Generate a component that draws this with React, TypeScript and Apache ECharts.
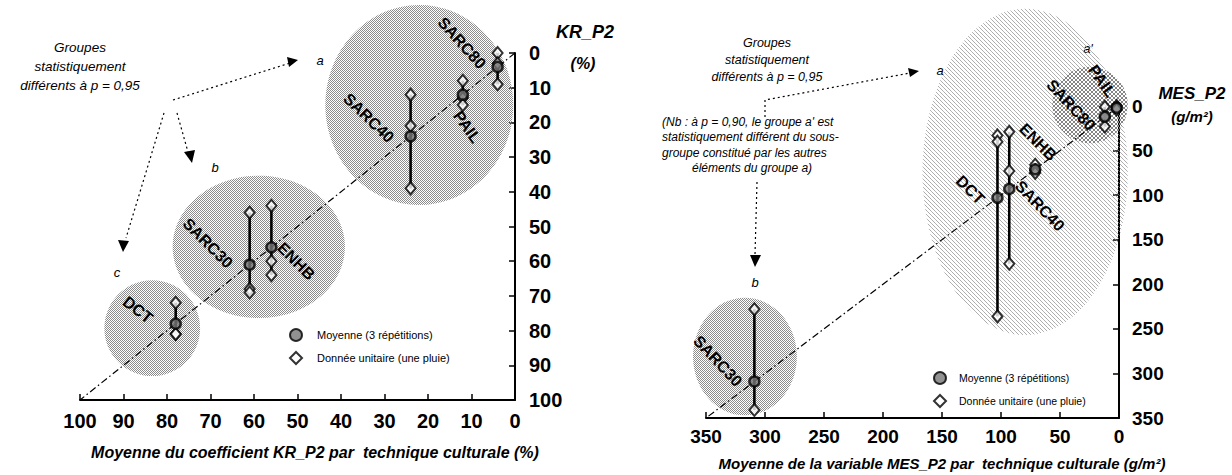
import { useEffect, useRef } from "react";
import * as echarts from "echarts";

const FONT = "'Liberation Sans', Arial, sans-serif";

// ---------- Left panel : KR_P2 (%) ----------
const krTechniques = ["SARC80", "PAIL", "SARC40", "SARC30", "ENHB", "DCT"];
const krMeans = [4, 12, 24, 61, 56, 78];
const krRuns = [
  [0, 3, 9],
  [8, 13, 15],
  [12, 21, 39],
  [46, 68, 69],
  [44, 60, 64],
  [72, 81, 81],
];
const krAxisMin = 0;
const krAxisMax = 100;
const krAxisStep = 10;

// ---------- Right panel : MES_P2 (g/m²) ----------
const mesTechniques = ["PAIL", "SARC80", "ENHB", "SARC40", "DCT", "SARC30"];
const mesMeans = [2, 12, 71, 93, 103, 309];
const mesRuns = [
  [0, 2, 4],
  [1, 12, 23],
  [66, 72, 75],
  [29, 73, 177],
  [33, 40, 236],
  [228, 341],
];
const mesAxisMin = 0;
const mesAxisMax = 350;
const mesAxisStep = 50;

// statistical groups (annotation areas, in data units: centre x, centre y, radius x, radius y)
const krGroupAreas = [
  [22, 15, 21.6, 28.8],
  [58.9, 55.9, 19.8, 20.5],
  [83.4, 79.3, 11, 13.8],
];
const mesGroupAreas = [
  [79.5, 74, 87, 183],
  [24.6, -1.1, 32, 43],
  [317, 281, 44, 66],
];
// technique label anchors (data units) and angle in degrees
const krLabelSpots = [
  [12.2, -2.9, -48],
  [11, 21.3, -55],
  [33.6, 18.7, -44],
  [70.6, 54.8, -45],
  [50.3, 60, -45],
  [86.7, 74, -38],
];
const mesLabelSpots = [
  [14.4, -28, -55],
  [40.7, -1.1, -47],
  [68.6, 40.4, -45],
  [67, 112, -46],
  [126, 94, -45],
  [340, 286, -47],
];

const MEAN_NAME = "Moyenne (3 répétitions)";
const RUN_NAME = "Donnée unitaire (une pluie)";

function svgPattern(body: string, w: number, h: number) {
  const svg = `<svg xmlns='http://www.w3.org/2000/svg' width='${w}' height='${h}'>${body}</svg>`;
  return {
    image: "data:image/svg+xml;charset=utf-8," + encodeURIComponent(svg),
    repeat: "repeat",
    imageWidth: w,
    imageHeight: h,
  } as any;
}

const stipple = svgPattern(
  "<rect x='0' y='0' width='1' height='1' fill='#8c8c8c'/><rect x='1' y='1' width='1' height='1' fill='#8c8c8c'/>",
  2,
  2
);
const hatch = svgPattern(
  "<path d='M0,0 L4,4 M-1,3 L1,5 M3,-1 L5,1' stroke='#8a8a8a' stroke-width='1' stroke-dasharray='1,0.6'/>",
  4,
  4
);
const crossHatch = svgPattern(
  "<path d='M0,0 L4,4 M-1,3 L1,5 M3,-1 L5,1 M0,4 L4,0 M-1,1 L1,-1 M3,5 L5,3' stroke='#858585' stroke-width='1'/>",
  4,
  4
);

function panelSeries(
  idx: number,
  techniques: string[],
  means: number[],
  runs: number[][],
  areas: number[][],
  areaFills: any[],
  labelSpots: number[][],
  maxV: number
) {
  return [
    {
      type: "custom",
      xAxisIndex: idx,
      yAxisIndex: idx,
      silent: true,
      z: 1,
      encode: { x: 0, y: 1 },
      data: areas,
      renderItem: (params: any, api: any) => {
        const c = api.coord([api.value(0), api.value(1)]);
        const s = api.size([api.value(2), api.value(3)]);
        return {
          type: "ellipse",
          shape: { cx: c[0], cy: c[1], rx: Math.abs(s[0]), ry: Math.abs(s[1]) },
          style: { fill: areaFills[params.dataIndex], stroke: null },
        };
      },
    },
    {
      type: "line",
      xAxisIndex: idx,
      yAxisIndex: idx,
      silent: true,
      z: 2,
      symbol: "none",
      data: [
        [0, 0],
        [maxV, maxV],
      ],
      lineStyle: { color: "#000", width: 1.2, type: [7, 3, 1.5, 3] },
    },
    {
      type: "custom",
      xAxisIndex: idx,
      yAxisIndex: idx,
      silent: true,
      z: 3,
      encode: { x: 0, y: [1, 2] },
      data: means.map((m, i) => [m, Math.min(...runs[i]), Math.max(...runs[i])]),
      renderItem: (params: any, api: any) => {
        const a = api.coord([api.value(0), api.value(1)]);
        const b = api.coord([api.value(0), api.value(2)]);
        return {
          type: "line",
          shape: { x1: a[0], y1: a[1], x2: b[0], y2: b[1] },
          style: { stroke: "#000", lineWidth: 2.6 },
        };
      },
    },
    {
      name: RUN_NAME,
      type: "scatter",
      xAxisIndex: idx,
      yAxisIndex: idx,
      z: 4,
      symbol: "diamond",
      symbolSize: [10, 12],
      itemStyle: { color: "#fff", borderColor: "#000", borderWidth: 2 },
      data: runs.flatMap((r, i) => r.map((v) => [means[i], v])),
    },
    {
      name: MEAN_NAME,
      type: "scatter",
      xAxisIndex: idx,
      yAxisIndex: idx,
      z: 5,
      symbol: "circle",
      symbolSize: 10,
      itemStyle: { color: "#777", borderColor: "#000", borderWidth: 2.5 },
      data: means.map((m) => [m, m]),
    },
    {
      type: "custom",
      xAxisIndex: idx,
      yAxisIndex: idx,
      silent: true,
      z: 6,
      encode: { x: 0, y: 1 },
      data: labelSpots,
      renderItem: (params: any, api: any) => {
        const c = api.coord([api.value(0), api.value(1)]);
        return {
          type: "text",
          x: c[0],
          y: c[1],
          rotation: (api.value(2) * Math.PI) / 180,
          style: {
            text: techniques[params.dataIndex],
            fontSize: 16,
            fontWeight: "bold",
            fontFamily: FONT,
            fill: "#000",
            align: "center",
            verticalAlign: "middle",
          },
        };
      },
    },
  ];
}

function axisPair(min: number, max: number, step: number, grid: number, fs: number, xm: number, ym: number) {
  const common = {
    type: "value",
    min,
    max,
    interval: step,
    inverse: true,
    gridIndex: grid,
    splitLine: { show: false },
    axisLine: { show: true, onZero: false, lineStyle: { color: "#000", width: 2 } },
    axisTick: { show: true, inside: true, length: 6, lineStyle: { color: "#000", width: 1.5 } },
  };
  return {
    x: {
      ...common,
      position: "bottom",
      axisLabel: { color: "#000", fontSize: fs, fontWeight: "bold", fontFamily: FONT, margin: xm },
    },
    y: {
      ...common,
      position: "right",
      axisLabel: { color: "#000", fontSize: fs, fontWeight: "bold", fontFamily: FONT, margin: ym },
    },
  };
}

function txt(x: number, y: number, text: string, opts: any = {}) {
  return {
    type: "text",
    x,
    y,
    silent: true,
    style: {
      text,
      fontFamily: FONT,
      fontSize: opts.fontSize ?? 13,
      fontStyle: opts.fontStyle ?? "italic",
      fontWeight: opts.fontWeight ?? "normal",
      fill: "#000",
      align: opts.align ?? "center",
      verticalAlign: "middle",
      lineHeight: opts.lineHeight,
    },
  };
}

function dotted(points: number[][], dash: number[] = [2, 3]) {
  return {
    type: "polyline",
    silent: true,
    shape: { points },
    style: { stroke: "#000", lineWidth: 1.2, lineDash: dash, fill: null },
  };
}

function head(points: number[][]) {
  return { type: "polygon", silent: true, shape: { points }, style: { fill: "#000", stroke: null } };
}

export default function App() {
  const ref = useRef<HTMLDivElement>(null);

  useEffect(() => {
    if (!ref.current) return;
    const chart = echarts.init(ref.current, undefined, { renderer: "svg" });
    const kr = axisPair(krAxisMin, krAxisMax, krAxisStep, 0, 20, 11, 14);
    const mes = axisPair(mesAxisMin, mesAxisMax, mesAxisStep, 1, 19, 9, 13);

    const option: any = {
      animation: false,
      backgroundColor: "#fff",
      grid: [
        { left: 80, top: 53, width: 435, height: 347 },
        { left: 706, top: 106, width: 413, height: 312 },
      ],
      xAxis: [kr.x, mes.x],
      yAxis: [kr.y, mes.y],
      legend: [
        {
          orient: "vertical",
          left: 284,
          top: 323,
          itemGap: 9,
          itemWidth: 12,
          itemHeight: 12,
          selectedMode: false,
          data: [MEAN_NAME, RUN_NAME],
          textStyle: { color: "#000", fontSize: 11, fontFamily: FONT, padding: [0, 0, 0, 10] },
        },
        {
          orient: "vertical",
          left: 928,
          top: 366,
          itemGap: 9,
          itemWidth: 12,
          itemHeight: 12,
          selectedMode: false,
          data: [MEAN_NAME, RUN_NAME],
          textStyle: { color: "#000", fontSize: 10.5, fontFamily: FONT, padding: [0, 0, 0, 8] },
        },
      ],
      series: [
        ...panelSeries(0, krTechniques, krMeans, krRuns, krGroupAreas, [stipple, stipple, stipple], krLabelSpots, krAxisMax),
        ...panelSeries(1, mesTechniques, mesMeans, mesRuns, mesGroupAreas, [hatch, crossHatch, stipple], mesLabelSpots, mesAxisMax),
      ],
      graphic: [
        // ----- left panel annotations -----
        txt(80, 66, "Groupes\nstatistiquement\ndifférents à p = 0,95", { fontSize: 13.5, lineHeight: 19 }),
        dotted([[173, 100], [290, 63]]),
        head([[298, 60], [287, 57], [289, 67]]),
        dotted([[177, 113], [188, 152]]),
        head([[192, 163], [184, 152], [195, 150]]),
        dotted([[164, 113], [126, 238]]),
        head([[123, 252], [118, 240], [129, 241]]),
        txt(320, 60, "a"),
        txt(215, 167, "b"),
        txt(117, 272, "c"),
        txt(585, 32, "KR_P2", { fontSize: 18, fontWeight: "bold" }),
        txt(583, 63, "(%)", { fontSize: 16, fontWeight: "bold" }),
        txt(315, 452, "Moyenne du coefficient KR_P2 par  technique culturale (%)", { fontSize: 16, fontWeight: "bold" }),
        // ----- right panel annotations -----
        txt(767, 60, "Groupes\nstatistiquement\ndifférents à p = 0,95", { fontSize: 12.5, lineHeight: 17 }),
        txt(662, 122, "(Nb : à p = 0,90, le groupe a' est", { fontSize: 12, align: "left" }),
        txt(662, 137, "statistiquement différent du sous-", { fontSize: 12, align: "left" }),
        txt(662, 153, "groupe constitué par les autres", { fontSize: 12, align: "left" }),
        txt(692, 168, "éléments du groupe a)", { fontSize: 12, align: "left" }),
        dotted([[765, 117], [765, 100], [910, 73]]),
        head([[919, 71], [908, 68], [910, 77]]),
        dotted([[757, 182], [755, 255]]),
        head([[755, 267], [750, 255], [761, 255]]),
        txt(940, 70, "a"),
        txt(1088, 48, "a'"),
        txt(755, 282, "b"),
        txt(1192, 93, "MES_P2", { fontSize: 17, fontWeight: "bold" }),
        txt(1192, 116, "(g/m²)", { fontSize: 15, fontWeight: "bold" }),
        txt(942, 463, "Moyenne de la variable MES_P2 par  technique culturale (g/m²)", { fontSize: 15, fontWeight: "bold" }),
      ],
    };
    chart.setOption(option);
    return () => chart.dispose();
  }, []);

  return (
    <div
      ref={ref}
      style={{ position: "fixed", left: 0, top: 0, width: 1232, height: 475, background: "#fff" }}
    />
  );
}
